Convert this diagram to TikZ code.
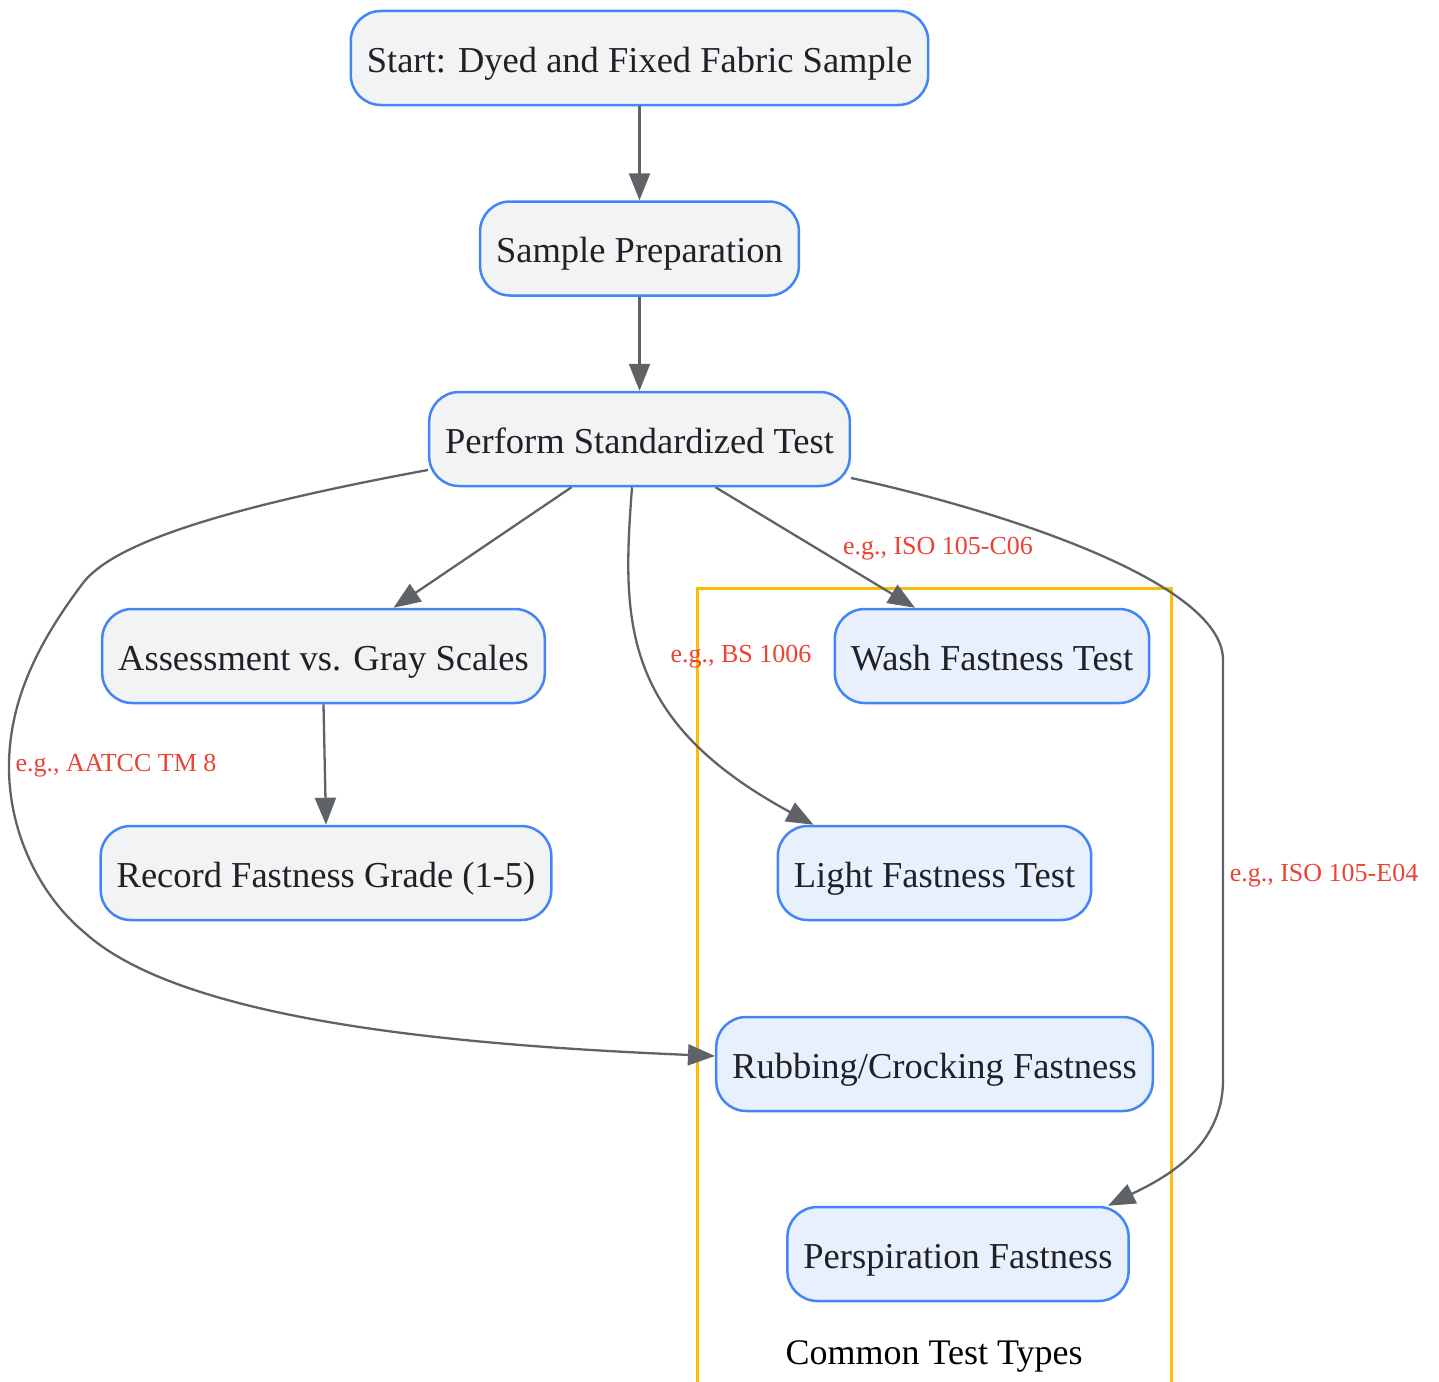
\documentclass[tikz,border=0pt]{standalone}
\usepackage{fontspec}
\setmainfont{Liberation Serif}
\usepackage{xcolor}
\usetikzlibrary{arrows.meta,positioning}

\definecolor{nodefill}{HTML}{F1F3F4}
\definecolor{testfill}{HTML}{E8F0FE}
\definecolor{nodeline}{HTML}{4285F4}
\definecolor{flowline}{HTML}{5F6368}
\definecolor{stdred}{HTML}{EA4335}
\definecolor{nodetext}{HTML}{202124}
\definecolor{groupline}{HTML}{FBBC04}

\begin{document}
\begin{tikzpicture}[x=1pt,y=-1pt,node distance=94pt,>={Triangle[length=27pt,width=21pt]},
  every node/.append style={align=center},
  stepbox/.style={rectangle, rounded corners=30pt, draw=nodeline, line width=2.5pt, fill=nodefill, text=nodetext, minimum height=94pt, inner xsep=16pt, text height=34pt, text depth=6pt, font=\fontsize{36.5}{43}\selectfont},
  testbox/.style={stepbox, fill=testfill},
  flow/.style={flowline, line width=2.3pt},
  stdlabel/.style={text=stdred, inner sep=0pt, font=\fontsize{26}{30}\selectfont}]
    \useasboundingbox (0,0) rectangle (1439,1381);
    % group of test types
    \draw[groupline, line width=3pt] (697,1385) -- (697,588) -- (1171,588) -- (1171,1385);
    \node [font=\fontsize{36}{43}\selectfont, inner sep=0pt] (grouplabel) at (934,1356) {Common Test Types};
    % main steps
    \node [stepbox] (start) at (639.5,58) {Start: Dyed and Fixed Fabric Sample};
    \node [stepbox, below=of start] (prep) {Sample Preparation};
    \node [stepbox, below=of prep] (perform) {Perform Standardized Test};
    \node [stepbox] (assess) at (323.5,656) {Assessment vs. Gray Scales};
    \node [stepbox] (record) at (326,873) {Record Fastness Grade (1-5)};
    % test types
    \node [testbox] (wash) at (992,656) {Wash Fastness Test};
    \node [testbox] (light) at (934.5,873) {Light Fastness Test};
    \node [testbox] (rub) at (934.5,1064) {Rubbing/Crocking Fastness};
    \node [testbox] (persp) at (958,1254) {Perspiration Fastness};
    % standards
    \node [stdlabel] (stdwash) at (938,549) {e.g., ISO 105-C06};
    \node [stdlabel] (stdlight) at (741,657) {e.g., BS 1006};
    \node [stdlabel] (stdrub) at (116,766) {e.g., AATCC TM 8};
    \node [stdlabel] (stdpersp) at (1324,876) {e.g., ISO 105-E04};
    % connectors
    \path[->, flow] (start) edge (prep);
    \path[->, flow] (prep) edge (perform);
    \draw[->, flow] ([xshift=-68pt]perform.south) -- ([xshift=70pt]assess.north);
    \draw[->, flow] (assess.south) -- (record.north);
    \draw[->, flow] ([xshift=76pt]perform.south) -- ([xshift=-77pt]wash.north);
    \draw[->, flow] ([xshift=-7.5pt]perform.south) .. controls (622,620) and (620,720) .. ([xshift=-121pt]light.north);
    \draw[->, flow] ([yshift=-31pt]perform.west) .. controls (200,512) and (110,548) .. (83,583)
      .. controls (40,640) and (8,700) .. (9,770)
      .. controls (10,840) and (45,900) .. (84,932)
      .. controls (180,1020) and (450,1045) .. ([yshift=8pt]rub.west);
    \draw[->, flow] ([yshift=-39pt]perform.east) .. controls (990,508) and (1223,580) .. (1223,660)
      -- (1223,1080) .. controls (1223,1150) and (1160,1180) .. ([xshift=150pt]persp.north);
\end{tikzpicture}
\end{document}
